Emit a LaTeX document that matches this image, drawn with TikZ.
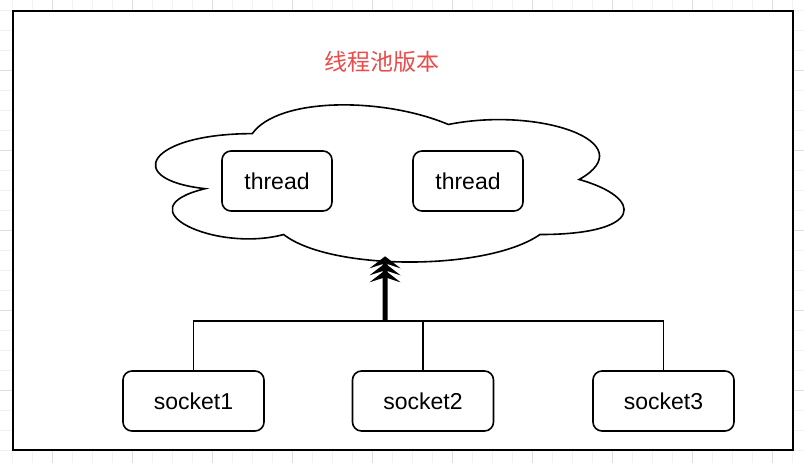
\documentclass[tikz,border=0pt]{standalone}
\usepackage{fontspec}
\setmainfont{Liberation Sans}
\newfontfamily\cjkfont{Noto Sans CJK SC}
\usetikzlibrary{positioning}
\usetikzlibrary{arrows.meta}

\definecolor{gridminor}{HTML}{F2F2F2}
\definecolor{gridmajor}{HTML}{DEDEDE}
\definecolor{titlered}{HTML}{EA4B4B}

\tikzset{
  box/.style={draw, line width=1.6pt, rounded corners=9pt, fill=white,
    minimum height=60pt, font=\fontsize{23}{27}\selectfont},
  wire/.style={line width=1.6pt},
  fathead/.tip={Stealth[length=12pt,width=31pt,inset=5pt,sep=-5pt]},
}

\begin{document}
\begin{tikzpicture}[x=1pt,y=-1pt]
    % canvas and grid
    \useasboundingbox (0,0) rectangle (804,463);
    \fill[white] (0,0) rectangle (804,463);
    \foreach \gx in {0,...,39} \draw[gridminor,line width=1pt] (12.7+20*\gx,0) -- (12.7+20*\gx,463);
    \foreach \gy in {0,...,22} \draw[gridminor,line width=1pt] (0,10+20*\gy) -- (804,10+20*\gy);
    \foreach \gx in {0,...,9} \draw[gridmajor,line width=1pt] (52.7+80*\gx,0) -- (52.7+80*\gx,463);
    \foreach \gy in {0,...,4} \draw[gridmajor,line width=1pt] (0,70+80*\gy) -- (804,70+80*\gy);

    % frame
    \draw[line width=2pt,fill=white] (13,11) rectangle (793,450);

    % title
    \node[text=titlered,font=\cjkfont\fontsize{23}{28}\selectfont] (title) at (382,62) {线程池版本};

    % pool
    \begin{scope}[xshift=121.5pt,yshift=-87.8pt,x=523pt,y=-183.4pt]
        \draw[line width=1.6pt,fill=white] (0.25,0.25)
            .. controls (0.05,0.25) and (0,0.5) .. (0.16,0.55)
            .. controls (0,0.66) and (0.18,0.9) .. (0.31,0.8)
            .. controls (0.4,1) and (0.7,1) .. (0.8,0.8)
            .. controls (1,0.8) and (1,0.6) .. (0.875,0.5)
            .. controls (1,0.3) and (0.8,0.1) .. (0.625,0.2)
            .. controls (0.5,0.05) and (0.3,0.05) .. cycle;
        \coordinate (poolbottom) at (0.504,0.946);
    \end{scope}

    % threads
    \node[box,minimum width=110pt] (thread1) at (277,181) {thread};
    \node[box,minimum width=110pt] (thread2) at (468,181) {thread};

    % sockets
    \node[box,minimum width=141pt] (socket1) at (193.5,401) {socket1};
    \node[box,minimum width=141pt] (socket2) at (423,401) {socket2};
    \node[box,minimum width=141pt] (socket3) at (663.5,401) {socket3};

    % links
    \coordinate (bus) at (385,321);
    \draw[wire] (socket1.north) |- (bus) -| (socket3.north);
    \draw[wire] (socket2.north) -- (socket2.north |- bus);
    \draw[line width=5pt,-{fathead[] fathead[] fathead[]}] (bus) -- (poolbottom);
\end{tikzpicture}
\end{document}
